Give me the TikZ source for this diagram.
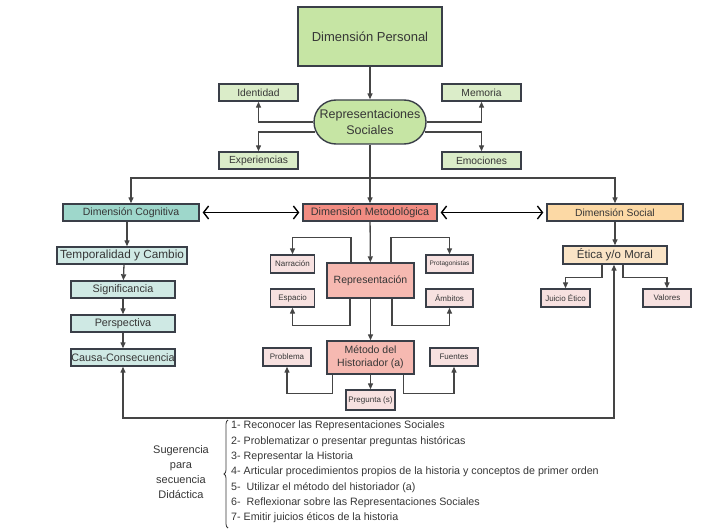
\documentclass[tikz,border=0pt]{standalone}
\usepackage{fontspec}
\setmainfont{Liberation Sans}
\usetikzlibrary{positioning,arrows.meta,shapes,decorations.pathreplacing}
\definecolor{borde}{HTML}{3A3F48}
\definecolor{linea}{HTML}{454545}
\definecolor{texto}{HTML}{363636}
\definecolor{verde}{HTML}{C6E5A4}
\definecolor{verdeclaro}{HTML}{DBEDC9}
\definecolor{turquesa}{HTML}{9ED7CB}
\definecolor{turquesaclaro}{HTML}{CFE9E4}
\definecolor{salmon}{HTML}{F28C82}
\definecolor{salmonclaro}{HTML}{F6B9B1}
\definecolor{rosa}{HTML}{F7E1E0}
\definecolor{naranja}{HTML}{FCD9A5}
\definecolor{naranjaclaro}{HTML}{FAE4C6}
\tikzset{
>={Triangle[length=6pt,width=5pt]},
  caja/.style={
    rectangle,
    draw=borde, line width=1.4pt,
    text=texto,
    inner sep=0pt,
    align=center},
  chica/.style={caja, fill=rosa, font=\fontsize{8}{9}\selectfont,
    minimum width=44pt, minimum height=18pt},
  media/.style={caja, font=\fontsize{10.3}{12}\selectfont,
    minimum width=79pt, minimum height=17pt},
  dimension/.style={caja, font=\fontsize{10.3}{12}\selectfont,
    minimum width=136pt, minimum height=17pt},
  concepto/.style={caja, fill=turquesaclaro, font=\fontsize{10.8}{13}\selectfont,
    minimum width=104pt, minimum height=17pt},
  line/.style={draw=linea, line width=1.3pt, ->},
  doble/.style={draw=black, line width=1.4pt,
    {Straight Barb[length=5pt,width=13pt]}-{Straight Barb[length=5pt,width=13pt]}},
  decoration={brace,amplitude=4pt},
  llave/.style={decorate, draw=texto, line width=0.8pt},
}
\begin{document}
\begin{tikzpicture}[x=1pt,y=-1pt]
\useasboundingbox (0,0) rectangle (707,532);

    % dimension personal
    \node [caja, fill=verde, minimum width=144pt, minimum height=59pt,
           font=\fontsize{13}{15}\selectfont](pers) at (370,36.5){Dimensión Personal};
    \node [caja, fill=verde, rounded corners=22pt, minimum width=112pt, minimum height=44pt,
           font=\fontsize{12.5}{16}\selectfont](rep) at (370,122){Representaciones\\Sociales};
    \node [media, fill=verdeclaro](ident) at (258.5,92.5){Identidad};
    \node [media, fill=verdeclaro](memo) at (481.5,92.5){Memoria};
    \node [media, fill=verdeclaro](exper) at (258.5,160.5){Experiencias};
    \node [media, fill=verdeclaro](emoc) at (481.5,160.5){Emociones};
    \coordinate (bus) at (370,178);

    % tres dimensiones
    \node [dimension, fill=turquesa, font=\fontsize{10.5}{12}\selectfont](cog) at (131,212.5){Dimensión Cognitiva};
    \node [dimension, fill=salmon, minimum width=134pt, font=\fontsize{10.8}{12}\selectfont](met) at (370,212.5){Dimensión Metodológica};
    \node [dimension, fill=naranja](soc) at (615,212.5){Dimensión Social};

    % cognitiva
    \node [concepto, minimum width=130pt, font=\fontsize{11.8}{13}\selectfont](temp) at (122,255.5){Temporalidad y Cambio};
    \node [concepto](sig) at (123,289.5){Significancia};
    \node [concepto](persp) at (123,323.5){Perspectiva};
    \node [concepto](causa) at (123,357.5){Causa-Consecuencia};

    % metodologica
    \node [caja, fill=salmonclaro, minimum width=87pt, minimum height=35pt,
           font=\fontsize{10.5}{13}\selectfont](repr) at (370.5,280.5){Representación};
    \node [chica](narr) at (292.5,264){Narración};
    \node [chica, minimum width=47pt, font=\fontsize{6.5}{8}\selectfont](prot) at (449.5,264){Protagonistas};
    \node [chica](esp) at (292.5,298){Espacio};
    \node [chica, minimum width=47pt](amb) at (449.5,298){Ámbitos};
    \node [caja, fill=salmonclaro, minimum width=87pt, minimum height=33pt,
           font=\fontsize{10.5}{13}\selectfont](metodo) at (370.5,357.5){Método del\\Historiador (a)};
    \node [chica, minimum width=48pt](probl) at (287,357){Problema};
    \node [chica, minimum width=48pt](fuen) at (454,357){Fuentes};
    \node [chica, minimum width=49pt, minimum height=20pt](preg) at (370.5,400){Pregunta (s)};

    % social
    \node [concepto, fill=naranjaclaro, minimum height=18pt, font=\fontsize{11.5}{13}\selectfont](etica) at (615,255){Ética y/o Moral};
    \node [chica, minimum width=49pt](juicio) at (565.5,298){Juicio Ético};
    \node [chica, minimum width=48pt](valor) at (667,298){Valores};

    % conectores
    \draw[line] (pers) -- (rep);
    \draw[line] (rep.west) -| (ident);
    \draw[line] ([xshift=2pt,yshift=-10pt]rep.west) -| (exper);
    \draw[line] (rep.east) -| (memo);
    \draw[line] ([xshift=-2pt,yshift=-10pt]rep.east) -| (emoc);
    \draw[line, -] (rep) -- (bus);
    \draw[line] (bus) -| (cog);
    \draw[line] (bus) -- (met);
    \draw[line] (bus) -| (soc);
    \draw[doble, shorten <=3pt, shorten >=3pt] (cog) -- (met);
    \draw[doble, shorten <=3pt, shorten >=3pt] (met) -- (soc);

    \draw[line] ([xshift=-4pt]cog.south) -- ([xshift=5pt]temp.north);
    \draw[line] ([xshift=2pt]temp.south) -- (sig);
    \draw[line] (sig) -- (persp);
    \draw[line] (persp) -- (causa);

    \draw[line] (met) -- (repr);
    \draw[line] ([xshift=-19.5pt]repr.north) -- ++(0,-25) -| (narr);
    \draw[line] ([xshift=20.5pt]repr.north) -- ++(0,-25) -| (prot);
    \draw[line] ([xshift=-20.5pt]repr.south) -- ++(0,27) -| (esp);
    \draw[line] ([xshift=21.5pt]repr.south) -- ++(0,27) -| (amb);
    \draw[line] (repr) -- (metodo);
    \draw[line] ([xshift=-38pt]metodo.south) -- ++(0,19) -| (probl);
    \draw[line] ([xshift=33pt]metodo.south) -- ++(0,19) -| (fuen);
    \draw[line] (metodo) -- (preg);

    \draw[line] (soc) -- (etica);
    \draw[line] ([xshift=-13pt]etica.south) -- ++(0,13) -| (juicio);
    \draw[line] ([xshift=8pt]etica.south) -- ++(0,13) -| (valor);

    \coordinate (retorno) at (370,418);
    \draw[line, <->] (causa) |- (retorno) -| ([xshift=-1pt]etica.south);

    % secuencia didactica
    \draw[llave] (228,528) -- (228,420);
    \node [text=texto, align=center, font=\fontsize{11}{15}\selectfont](sug) at (181,472)
          {Sugerencia\\para\\secuencia\\Didáctica};
    \node [text=texto, align=left, anchor=north west, inner sep=0pt,
           font=\fontsize{10.7}{15.3}\selectfont](pasos) at (231,421)
          {1- Reconocer las Representaciones Sociales\\
           2- Problematizar o presentar preguntas históricas\\
           3- Representar la Historia\\
           4- Articular procedimientos propios de la historia y conceptos de primer orden\\
           5-\ \ Utilizar el método del historiador (a)\\
           6-\ \ Reflexionar sobre las Representaciones Sociales\\
           7- Emitir juicios éticos de la historia};

\end{tikzpicture}
\end{document}
